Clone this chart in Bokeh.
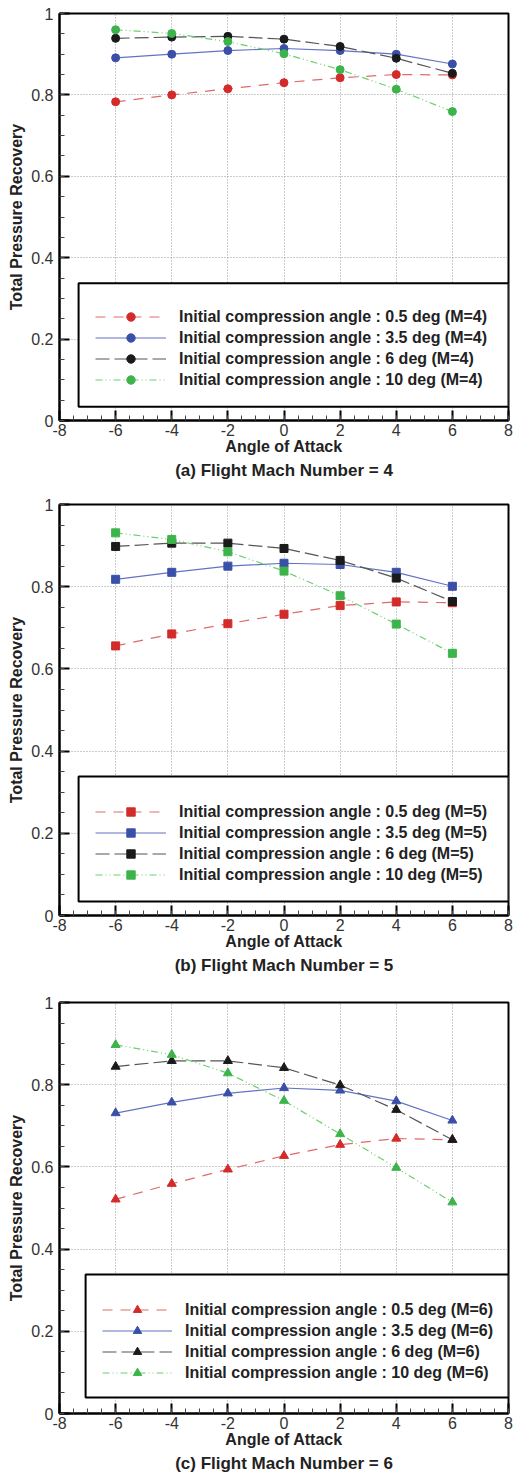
from bokeh.plotting import figure
from bokeh.layouts import column
from bokeh.models import Range1d, FixedTicker, BoxAnnotation, Legend, LegendItem, Title
from bokeh.embed import file_html
from bokeh.resources import INLINE

# ---------------- data ----------------
angles = [-6, -4, -2, 0, 2, 4, 6]
comp_angles = ["0.5", "3.5", "6", "10"]

# Flight Mach 4
m4_a05 = [0.783, 0.800, 0.815, 0.830, 0.842, 0.850, 0.849]
m4_a35 = [0.891, 0.900, 0.909, 0.914, 0.909, 0.900, 0.876]
m4_a6 = [0.939, 0.942, 0.944, 0.937, 0.919, 0.890, 0.853]
m4_a10 = [0.960, 0.951, 0.931, 0.901, 0.862, 0.814, 0.759]

# Flight Mach 5
m5_a05 = [0.656, 0.685, 0.710, 0.733, 0.754, 0.763, 0.761]
m5_a35 = [0.818, 0.835, 0.850, 0.857, 0.854, 0.835, 0.801]
m5_a6 = [0.898, 0.906, 0.906, 0.893, 0.864, 0.821, 0.764]
m5_a10 = [0.931, 0.915, 0.885, 0.838, 0.778, 0.709, 0.638]

# Flight Mach 6
m6_a05 = [0.521, 0.559, 0.594, 0.627, 0.654, 0.669, 0.666]
m6_a35 = [0.731, 0.757, 0.779, 0.792, 0.786, 0.760, 0.713]
m6_a6 = [0.844, 0.858, 0.858, 0.841, 0.799, 0.739, 0.666]
m6_a10 = [0.897, 0.873, 0.828, 0.761, 0.680, 0.598, 0.514]

x_ticks = [-8, -6, -4, -2, 0, 2, 4, 6, 8]
x_labels = ["-8", "-6", "-4", "-2", "0", "2", "4", "6", "8"]
y_ticks = [0, 0.2, 0.4, 0.6, 0.8, 1]
y_labels = ["0", "0.2", "0.4", "0.6", "0.8", "1"]

# ---------------- styles ----------------
marker_colors = ["#d42a2a", "#3a50a8", "#1a1a1a", "#3cb44b"]
line_colors = ["#e06a6a", "#6273c4", "#555555", "#6ccf6c"]
dashes = ["10 8", "solid", "14 5", "7 3 1 3 1 3"]

FONT = "Liberation Sans"


def make_panel(series, marker, msize, mach, caption, height, btop, bbot,
               box, leg_x, leg_y, glyph_w):
    p = figure(width=516, height=height, output_backend="svg", toolbar_location=None,
               x_range=Range1d(-8, 8), y_range=Range1d(0, 1),
               min_border_left=59, min_border_right=8,
               min_border_top=btop, min_border_bottom=bbot)
    p.title.visible = False
    p.background_fill_color = "white"
    p.border_fill_color = "white"
    p.outline_line_color = "black"
    p.outline_line_width = 2
    p.outline_line_alpha = 1

    p.xaxis.ticker = FixedTicker(ticks=x_ticks, minor_ticks=[-8 + 0.5 * i for i in range(33)])
    p.yaxis.ticker = FixedTicker(ticks=y_ticks, minor_ticks=[0.05 * i for i in range(21)])
    p.xaxis.major_label_overrides = {t: l for t, l in zip(x_ticks, x_labels)}
    p.yaxis.major_label_overrides = {t: l for t, l in zip(y_ticks, y_labels)}
    for ax in (p.xaxis, p.yaxis):
        ax.axis_line_color = "black"
        ax.axis_line_width = 2
        ax.major_tick_in = 10
        ax.major_tick_out = 0
        ax.major_tick_line_width = 2
        ax.major_tick_line_color = "black"
        ax.minor_tick_in = 5
        ax.minor_tick_out = 0
        ax.minor_tick_line_width = 1
        ax.minor_tick_line_color = "#444444"
        ax.major_label_text_font = FONT
        ax.major_label_text_font_size = "16px"
        ax.major_label_text_color = "#333333"
        ax.axis_label_text_font = FONT
        ax.axis_label_text_font_size = "16px"
        ax.axis_label_text_font_style = "bold"
        ax.axis_label_text_color = "#222222"
    p.xaxis.axis_label = "Angle of Attack"
    p.yaxis.axis_label = "Total Pressure Recovery"
    p.xaxis.major_label_standoff = 3
    p.xaxis.axis_label_standoff = -1
    p.yaxis.major_label_standoff = 6
    p.yaxis.axis_label_standoff = 3

    for g in (p.xgrid, p.ygrid):
        g.grid_line_color = "#999999"
        g.grid_line_dash = "1 2"
        g.grid_line_width = 1
    p.xgrid.ticker = FixedTicker(ticks=x_ticks)
    p.ygrid.ticker = FixedTicker(ticks=y_ticks)

    items = []
    for i, ys in enumerate(series):
        ln = p.line(angles, ys, line_color=line_colors[i], line_width=1.2,
                    line_dash=dashes[i])
        sc = p.scatter(angles, ys, marker=marker, size=msize,
                       fill_color=marker_colors[i], line_color=marker_colors[i])
        label = "Initial compression angle : %s deg (M=%d)" % (comp_angles[i], mach)
        items.append(LegendItem(label=label, renderers=[ln, sc]))

    bl, bb, bt = box
    p.add_layout(BoxAnnotation(left=bl, right=8, bottom=bb, top=bt,
                               fill_color="white", fill_alpha=1,
                               line_color="black", line_width=2, line_alpha=1))

    leg = Legend(items=items, location=(leg_x, leg_y), orientation="vertical",
                 glyph_width=glyph_w, glyph_height=21, label_height=21,
                 label_standoff=13, spacing=0, padding=0, margin=0,
                 border_line_alpha=0, background_fill_alpha=0,
                 label_text_font=FONT, label_text_font_size="16px",
                 label_text_font_style="bold", label_text_color="#222222")
    p.add_layout(leg, "center")

    cap = Title(text=caption, align="center", text_font=FONT, text_font_size="17px",
                text_font_style="bold", text_color="#222222", standoff=3)
    p.add_layout(cap, "below")
    return p


p1 = make_panel([m4_a05, m4_a35, m4_a6, m4_a10], "circle", 8, 4,
                "(a) Flight Mach Number = 4", 488, 13, 68,
                (-7.32, 0.034, 0.337), 36, 30, 71)
p2 = make_panel([m5_a05, m5_a35, m5_a6, m5_a10], "square", 8, 5,
                "(b) Flight Mach Number = 5", 497, 16, 70,
                (-7.32, 0.034, 0.338), 36, 30, 71)
p3 = make_panel([m6_a05, m6_a35, m6_a6, m6_a10], "triangle", 9, 6,
                "(c) Flight Mach Number = 6", 489, 17, 61,
                (-7.07, 0.039, 0.338), 43, 30, 70)

layout = column(p1, p2, p3, spacing=0)
open("out.html", "w").write(file_html(layout, INLINE))
